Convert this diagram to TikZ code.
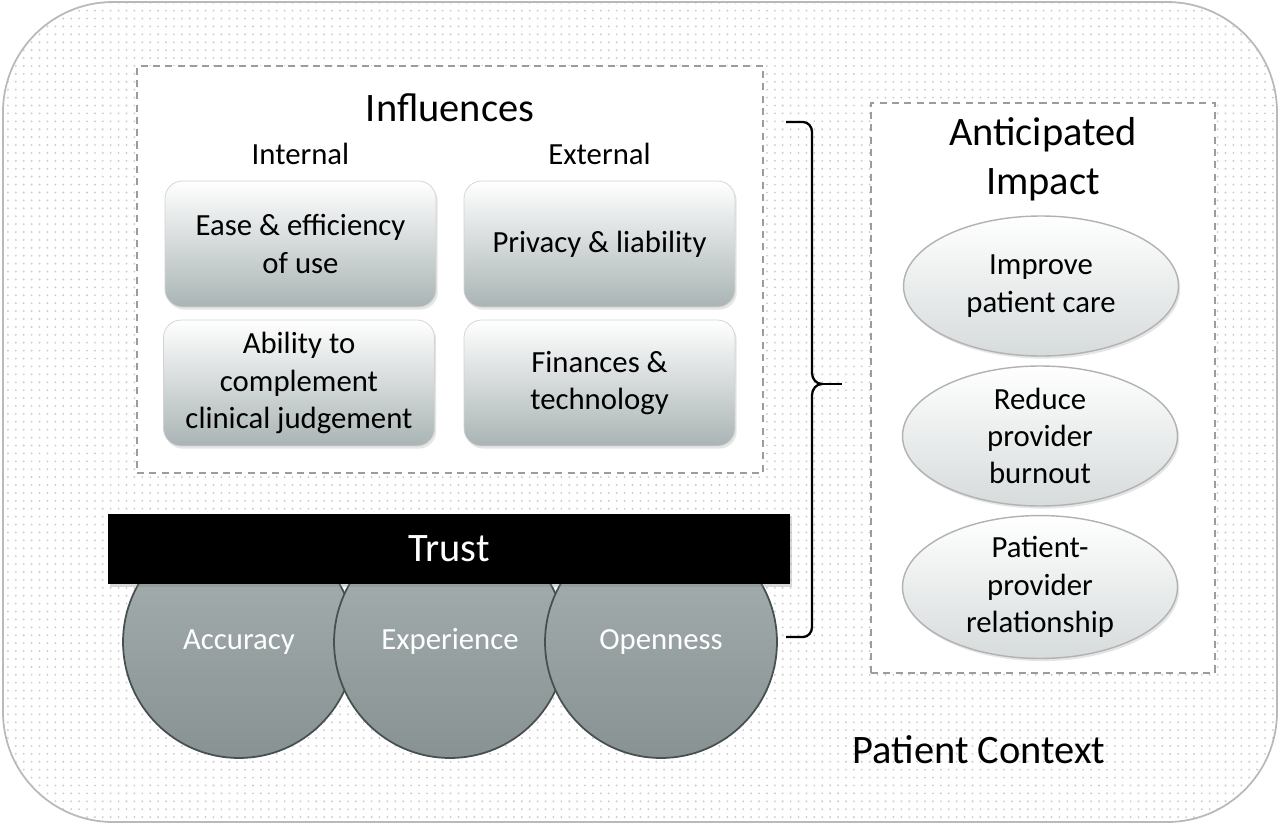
\documentclass[tikz,border=0pt]{standalone}
\usepackage{fontspec}
\setmainfont{Carlito}
\usetikzlibrary{positioning,shapes.geometric,patterns.meta,shadows}

\definecolor{edgegray}{RGB}{150,158,158}
\definecolor{boxgray}{RGB}{170,180,180}
\definecolor{discgray}{RGB}{168,178,178}
\definecolor{discdark}{RGB}{136,146,146}
\definecolor{discedge}{RGB}{70,80,80}
\definecolor{ovalgray}{RGB}{214,219,219}

\begin{document}
\begin{tikzpicture}[
    x=0.02cm, y=-0.02cm,
    context/.style={draw=gray!55, line width=1pt, rounded corners=2.2cm,
        preaction={fill=white}, pattern={Dots[distance=4.5pt, radius=0.6pt]}, pattern color=gray!40},
    panel/.style={rectangle, draw=edgegray, line width=1pt, dash pattern=on 4pt off 3pt, fill=white, inner sep=0pt},
    factor/.style={rectangle, draw=gray!35, rounded corners=10pt, minimum width=5.42cm, minimum height=2.52cm,
        align=center, inner sep=0pt, top color=white, bottom color=boxgray,
        drop shadow={opacity=0.2, shadow xshift=1pt, shadow yshift=-1.5pt}},
    disc/.style={circle, draw=discedge, line width=1pt, minimum size=4.64cm, inner sep=0pt,
        top color=discgray, bottom color=discdark, text=white},
    outcome/.style={ellipse, draw=gray!60, line width=0.8pt, minimum width=5.5cm, minimum height=2.8cm,
        align=center, inner sep=0pt, top color=white, bottom color=ovalgray,
        drop shadow={opacity=0.2, shadow xshift=1pt, shadow yshift=-1.5pt}},
    label/.style={font=\fontsize{17.5}{21.3}\selectfont},
    title/.style={font=\fontsize{23}{28}\selectfont, align=center}
]
\useasboundingbox (0,0) rectangle (1280,825);

% background
\draw[context] (3,2) rectangle (1277,822);
\node[panel, minimum width=12.52cm, minimum height=8.14cm] (influences) at (450,269.5) {};
\node[panel, minimum width=6.88cm, minimum height=11.4cm] (impact) at (1043,388) {};

% trust pillars
\node[disc, label] (accuracy) at (239,642) {\raisebox{-4.5pt}[0pt][0pt]{Accuracy}};
\node[disc, label] (experience) at (450,642) {\raisebox{-4.5pt}[0pt][0pt]{Experience}};
\node[disc, label] (openness) at (661,642) {\raisebox{-4.5pt}[0pt][0pt]{Openness}};
\node[rectangle, fill=black, minimum width=13.64cm, minimum height=1.4cm, text=white,
    font=\fontsize{23}{28}\selectfont,
    drop shadow={opacity=0.3, shadow xshift=1pt, shadow yshift=-1.5pt}] (trust) at (449,549) {Trust};

% influences
\node[title] (inftitle) at (450,108) {Influences};
\node[factor, label] (ease) at (300.5,244) {Ease \& efficiency\\of use};
\node[factor, label] (privacy) at (599.5,244) {Privacy \& liability};
\node[factor, label] (ability) at (299,383) {Ability to\\complement\\clinical judgement};
\node[factor, label] (finances) at (599.5,383) {Finances \&\\technology};
\node[label, above=0.2cm of ease] (internal) {Internal};
\node[label, above=0.2cm of privacy] (external) {External};

% brace
\draw[line width=1.3pt] (786,122) -- (803,122) to[out=0,in=90] (812,132) -- (812,373)
    to[out=-90,in=180] (822,384) to[out=180,in=90] (812,395) -- (812,627)
    to[out=-90,in=0] (803,637) -- (786,637);
\draw[line width=1.3pt] (822,384) -- (842,384);

% impact
\node[title] (imptitle) at (1043,159) {Anticipated\\Impact};
\node[outcome, label] (care) at (1041,286) {Improve\\patient care};
\node[outcome, label] (burnout) at (1040,436) {Reduce\\provider\\burnout};
\node[outcome, label] (relation) at (1040,587) {Patient-\\provider\\relationship};

\node[title] (context) at (979,750) {Patient Context};
\end{tikzpicture}
\end{document}
